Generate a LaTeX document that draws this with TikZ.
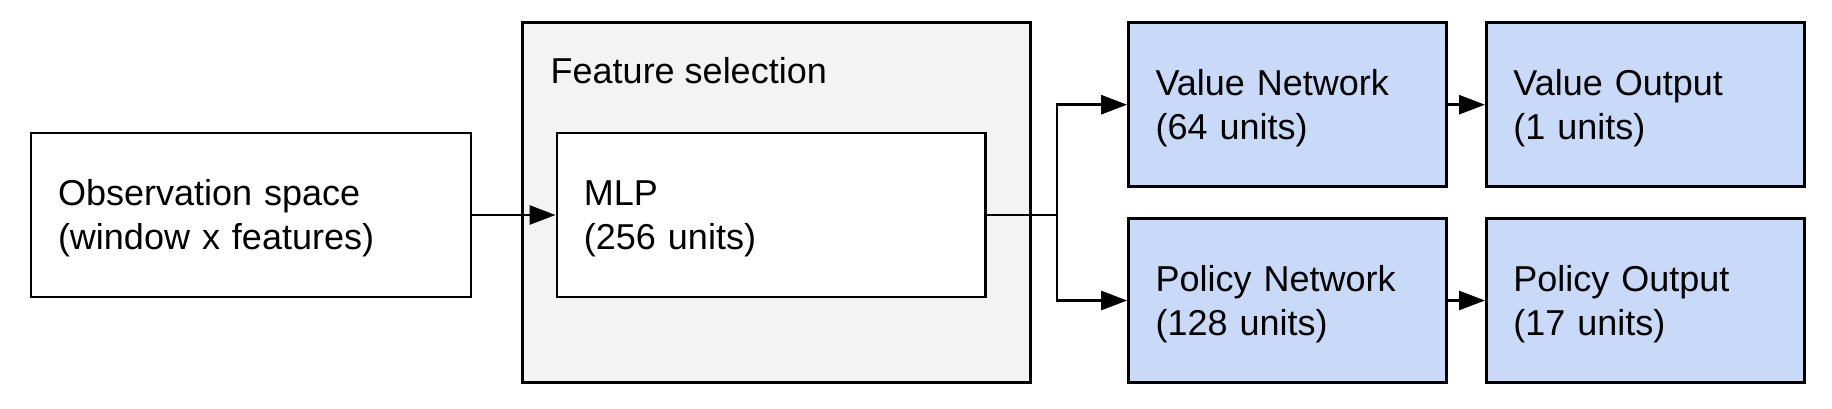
\documentclass[tikz,border=0pt]{standalone}
\usepackage{fontspec}
\setmainfont{Liberation Sans}
\usetikzlibrary{arrows.meta}

\definecolor{featgray}{HTML}{F3F3F3}
\definecolor{netblue}{HTML}{C9DAF8}

\begin{document}
\begin{tikzpicture}[x=0.5pt, y=-0.5pt,
        box/.style={draw, line width=1.4pt, rectangle, align=left, inner xsep=13.5pt,
            font=\fontsize{18}{22}\selectfont, execute at begin node={\rule{0pt}{16.6pt}}},
        netbox/.style={box, fill=netblue, text width=132pt, minimum height=82pt},
        link/.style={line width=1.4pt, -{Triangle[length=13pt, width=9.5pt]}}]
    \useasboundingbox (0,0) rectangle (1832,408);

    \node[box, text width=193pt, minimum height=82pt] (obs) at (251,215)
        {Observation space\\(window x features)};
    \node[draw, line width=1.4pt, fill=featgray, minimum width=254pt, minimum height=180pt] (feat) at (776.7,202.7) {};
    \node[anchor=base west, inner sep=0pt, font=\fontsize{18}{22}\selectfont] (feattitle)
        at ([xshift=14.5pt, yshift=-31.3pt]feat.north west) {Feature selection};
    \node[box, fill=white, text width=187.25pt, minimum height=82pt] (mlp) at (771.2,215)
        {MLP\\(256 units)};

    \node[netbox] (valnet) at (1287.5,104.7) {Value Network\\(64 units)};
    \node[netbox] (valout) at (1645.4,104.7) {Value Output\\(1 units)};
    \node[netbox] (polnet) at (1287.5,300.5) {Policy Network\\(128 units)};
    \node[netbox] (polout) at (1645.4,300.5) {Policy Output\\(17 units)};

    \coordinate (split) at (1057,215);

    \draw[link] (obs.east) -- (mlp.west);
    \draw[line width=1.4pt] (mlp.east) -- (split);
    \draw[link] (split) |- (valnet.west);
    \draw[link] (split) |- (polnet.west);
    \draw[link] (valnet.east) -- (valout.west);
    \draw[link] (polnet.east) -- (polout.west);
\end{tikzpicture}
\end{document}
